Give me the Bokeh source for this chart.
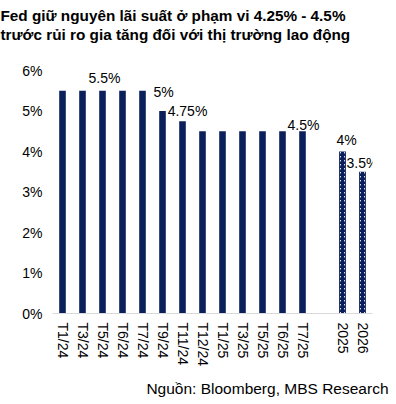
from bokeh.plotting import figure
from bokeh.models import ColumnDataSource, FactorRange, Title, FixedTicker, CustomJSTickFormatter
from bokeh.core.properties import value
from bokeh.embed import file_html
from bokeh.resources import INLINE

categories = ["T1/24", "T3/24", "T5/24", "T6/24", "T7/24", "T9/24", "T11/24", "T12/24",
              "T1/25", "T3/25", "T5/25", "T6/25", "T7/25"]
rates = [5.5, 5.5, 5.5, 5.5, 5.5, 5.0, 4.75, 4.5, 4.5, 4.5, 4.5, 4.5, 4.5]
forecast_years = ["2025", "2026"]
forecast_rates = [4.0, 3.5]
gap = " "
label_cats = ["T5/24", "T9/24", "T11/24", "T7/25", "2025", "2026"]
label_vals = [5.5, 5.0, 4.75, 4.5, 4.0, 3.5]
label_texts = ["5.5%", "5%", "4.75%", "4.5%", "4%", "3.5%"]
y_ticks = [0, 1, 2, 3, 4, 5, 6]

# label nudges in pixels (style)
lx_off = [2, 1, 5, 1, 4, 0]
ly_off = [-13, -19, -10, -6, -12, -9]

NAVY = "#0b1f5b"
FONT = "Liberation Sans"

factors = categories + [gap] + forecast_years
p = figure(x_range=FactorRange(*factors, range_padding=0), y_range=(0, 6),
           width=396, height=404, output_backend="svg", toolbar_location=None,
           min_border_left=52, min_border_right=24, min_border_top=70, min_border_bottom=90)
p.outline_line_color = None
p.background_fill_color = "white"
p.border_fill_color = "white"
p.xgrid.visible = False
p.ygrid.visible = False

p.vbar(x=categories, top=rates, width=0.33, fill_color=NAVY, line_color=None)
p.vbar(x=forecast_years, top=forecast_rates, width=0.34, fill_color="white", line_color=None,
       hatch_pattern="/", hatch_color=NAVY, hatch_scale=4, hatch_weight=2)

lsrc = ColumnDataSource(dict(x=label_cats, y=label_vals, t=label_texts, xo=lx_off, yo=ly_off))
p.text(x="x", y="y", text="t", source=lsrc, x_offset="xo", y_offset="yo",
       text_align="center", text_baseline="alphabetic",
       text_font=value(FONT), text_font_size="14px", text_color="#000000")

p.yaxis.ticker = FixedTicker(ticks=y_ticks)
p.yaxis.formatter = CustomJSTickFormatter(code="return tick.toFixed(0) + '%'")
p.yaxis.axis_line_color = None
p.yaxis.major_tick_line_color = None
p.yaxis.minor_tick_line_color = None
p.yaxis.major_tick_in = 0
p.yaxis.major_tick_out = 0
p.yaxis.major_label_standoff = 10
p.yaxis.major_label_text_font = FONT
p.yaxis.major_label_text_font_size = "14px"
p.yaxis.major_label_text_color = "#000000"

p.xaxis.axis_line_color = "#d9d9d9"
p.xaxis.axis_line_width = 1
p.xaxis.major_tick_line_color = None
p.xaxis.minor_tick_line_color = None
p.xaxis.major_tick_in = 0
p.xaxis.major_tick_out = 0
p.xaxis.major_label_orientation = "vertical"
p.xaxis.major_label_standoff = 9
p.xaxis.major_label_text_font = FONT
p.xaxis.major_label_text_font_size = "14px"
p.xaxis.major_label_text_color = "#000000"

p.add_layout(Title(text="Nguồn: Bloomberg, MBS Research", align="right", offset=-16, standoff=16,
                   text_font=FONT, text_font_size="15.5px", text_font_style="normal",
                   text_color="#000000"), "below")
p.add_layout(Title(text=" ", align="left", standoff=15, text_font=FONT, text_font_size="10px"), "above")
p.add_layout(Title(text="trước rủi ro gia tăng đối với thị trường lao động", align="left", offset=-52,
                   standoff=0, text_font=FONT, text_font_size="15.3px", text_font_style="bold",
                   text_color="#000000"), "above")
p.add_layout(Title(text="Fed giữ nguyên lãi suất ở phạm vi 4.25% - 4.5%", align="left", offset=-52,
                   standoff=0, text_font=FONT, text_font_size="15.3px", text_font_style="bold",
                   text_color="#000000"), "above")

open("out.html", "w").write(file_html(p, INLINE))
